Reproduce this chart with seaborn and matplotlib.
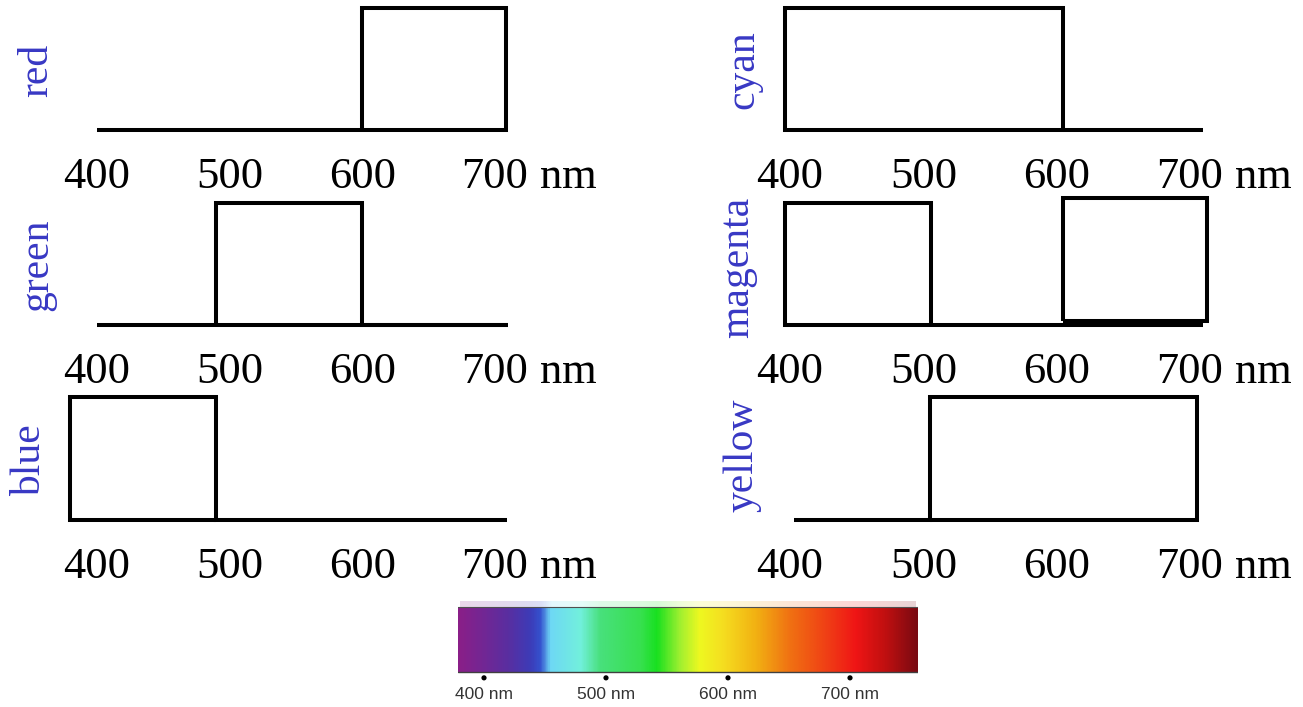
import numpy as np
import pandas as pd
import matplotlib
matplotlib.use("Agg")
import matplotlib.pyplot as plt
from matplotlib.colors import LinearSegmentedColormap, Normalize
import seaborn as sns

sns.set_theme(style="white")
plt.rcParams['font.family'] = ['Liberation Serif', 'DejaVu Serif']

# ---------------- data ----------------
tick_values = [400, 500, 600, 700]
tick_labels = ["400", "500", "600", "700"]
unit_label = "nm"

panel_names = ["red", "green", "blue", "cyan", "magenta", "yellow"]

red_x = [400, 708, 708, 600, 600]
red_y = [0, 0, 1, 1, 0]
green_x = [400, 710, 600, 600, 490, 490]
green_y = [0, 0, 0, 1, 1, 0]
blue_x = [490, 380, 380, 490, 490, 709]
blue_y = [0, 0, 1, 1, 0, 0]
cyan_x = [710, 396, 396, 605, 605]
cyan_y = [0, 0, 1, 1, 0]
magenta_x = [710, 396, 396, 506, 506]
magenta_y = [0, 0, 1, 1, 0]
magenta2_x = [605, 605, 713, 713, 605]
magenta2_y = [0.03, 1.04, 1.04, 0.03, 0.03]
yellow_x = [403, 505, 505, 705, 705, 505]
yellow_y = [0, 0, 1, 1, 0, 0]

spectrum_nm = [378.7, 418.6, 437.7, 445.9, 454.0, 478.7, 495.0, 527.9, 541.5,
               560.7, 577.0, 596.0, 623.5, 650.8, 678.0, 705.5, 730.0, 755.7]
spectrum_colors = ["#8a1f88", "#5a2ea0", "#3c3cb8", "#3552cf", "#6ed8f5", "#72f0dc",
                   "#48e07c", "#38e050", "#18e020", "#a0f030", "#eef820", "#f5de20",
                   "#f2b012", "#f07212", "#f04515", "#ef1515", "#c01010", "#7a0a12"]
spectrum_ticks = [400, 500, 600, 700]
spectrum_tick_labels = ["400 nm", "500 nm", "600 nm", "700 nm"]

# ---------------- layout ----------------
W, H = 1303, 707
fig = plt.figure(figsize=(W / 100, H / 100), dpi=100)
PX2PT = 72 / 100.0

def add_axes_px(x0, y0, x1, y1):
    return fig.add_axes([x0 / W, 1 - y1 / H, (x1 - x0) / W, (y1 - y0) / H])

rows = [(8, 130), (203, 325), (397, 520)]   # (top px, baseline px)
cols = [  # (axes x0 px, axes x1 px, px at 400nm, px per nm)
    (50, 530, 97.0, 1.3267),
    (740, 1232, 790.0, 1.3333),
]
label_pos = {"red": (37, 70), "green": (37, 265), "blue": (30, 460),
             "cyan": (743, 70), "magenta": (738, 267), "yellow": (742, 455)}

paths = {
    "red": [(red_x, red_y)],
    "green": [(green_x, green_y)],
    "blue": [(blue_x, blue_y)],
    "cyan": [(cyan_x, cyan_y)],
    "magenta": [(magenta_x, magenta_y), (magenta2_x, magenta2_y)],
    "yellow": [(yellow_x, yellow_y)],
}

tick_fs = 32
label_fs = 30
label_color = "#3838c4"

for i, name in enumerate(panel_names):
    c = i // 3
    r = i % 3
    top, base = rows[r]
    x0, x1, p400, ppn = cols[c]
    ay0, ay1 = top - 8, base + 6
    ax = add_axes_px(x0, ay0, x1, ay1)
    h = base - top
    ax.set_xlim(400 + (x0 - p400) / ppn, 400 + (x1 - p400) / ppn)
    ax.set_ylim((base - ay1) / h, (base - ay0) / h)
    for xs, ys in paths[name]:
        df = pd.DataFrame({"x": xs, "y": ys})
        sns.lineplot(data=df, x="x", y="y", sort=False, estimator=None,
                     color="black", lw=2.9, ax=ax)
        ax.lines[-1].set_solid_joinstyle("miter")
        ax.lines[-1].set_solid_capstyle("butt")
    for s in ax.spines.values():
        s.set_visible(False)
    ax.set_xlabel("")
    ax.set_ylabel("")
    ax.set_yticks([])
    pad_px = (base + 27) - ay1
    ax.set_xticks(tick_values)
    ax.set_xticklabels(tick_labels)
    ax.tick_params(axis="x", length=0, pad=pad_px * PX2PT, labelsize=tick_fs,
                   labelcolor="black")
    ax.annotate(unit_label, xy=(700, 0), xycoords=("data", "axes fraction"),
                xytext=(45 * PX2PT, -pad_px * PX2PT), textcoords="offset points",
                ha="left", va="top", fontsize=tick_fs, color="black",
                annotation_clip=False)
    lx, ly = label_pos[name]
    fig.text(lx / W, 1 - ly / H, name, rotation=90, ha="center", va="center",
             fontsize=label_fs, color=label_color)

# ---------------- spectrum bar ----------------
bx0, bx1 = 458, 918
bar_top, bar_bot = 607, 672
s_p400, s_ppn = 484.0, 1.22
sax = add_axes_px(bx0, 598, bx1, 684)
nm_lo = 400 + (bx0 - s_p400) / s_ppn
nm_hi = 400 + (bx1 - s_p400) / s_ppn
bh = bar_bot - bar_top
sax.set_xlim(nm_lo, nm_hi)
sax.set_ylim(-(684 - bar_bot) / bh, 1 + (bar_top - 598) / bh)
pos = [(v - spectrum_nm[0]) / (spectrum_nm[-1] - spectrum_nm[0]) for v in spectrum_nm]
cmap = LinearSegmentedColormap.from_list("spectrum", list(zip(pos, spectrum_colors)))
grad = np.linspace(spectrum_nm[0], spectrum_nm[-1], 600).reshape(1, -1)
norm = Normalize(spectrum_nm[0], spectrum_nm[-1])
sax.imshow(grad, cmap=cmap, norm=norm, aspect="auto",
           extent=[nm_lo, nm_hi, 0, 1], interpolation="bilinear")
sax.imshow(grad, cmap=cmap, norm=norm, aspect="auto", alpha=0.18,
           extent=[nm_lo + 2, nm_hi - 2, 1, 1.09], interpolation="bilinear")
sax.plot([nm_lo, nm_hi], [0, 0], color="#404040", lw=1.0)
sax.plot([nm_lo, nm_hi], [1, 1], color="#505050", lw=0.8)
sns.scatterplot(x=spectrum_ticks, y=[-0.09] * len(spectrum_ticks), color="black",
                s=14, edgecolor="none", ax=sax, clip_on=False)
for s in sax.spines.values():
    s.set_visible(False)
sax.set_yticks([])
sax.set_xticks(spectrum_ticks)
sax.set_xticklabels(spectrum_tick_labels, family="Liberation Sans")
sax.tick_params(axis="x", length=0, pad=2.5, labelsize=12.5, labelcolor="#333333")

fig.savefig("out.png", dpi=100)
